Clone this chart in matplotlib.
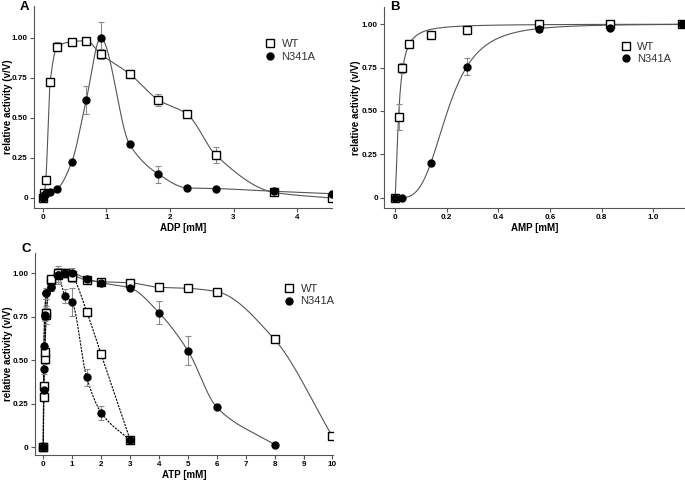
import numpy as np
import matplotlib
matplotlib.use("Agg")
import matplotlib.pyplot as plt
from matplotlib.lines import Line2D

plt.rcParams['font.family'] = ['Liberation Sans', 'DejaVu Sans']

# ---------------- data ----------------
# Panel A (ADP)
x_adp = [0, 0.0227, 0.0455, 0.114, 0.227, 0.455, 0.682, 0.909, 1.364, 1.818, 2.273, 2.727, 3.636, 4.545]
wt_adp = [0, 0.03, 0.11, 0.724, 0.946, 0.977, 0.983, 0.90, 0.776, 0.613, 0.523, 0.266, 0.035, 0.0]
wt_adp_err = [0, 0, 0, 0.01, 0.03, 0.01, 0.01, 0.03, 0.025, 0.04, 0.01, 0.05, 0.01, 0]
n_adp = [0, 0.017, 0.031, 0.04, 0.059, 0.226, 0.613, 1.0, 0.335, 0.149, 0.063, 0.059, 0.042, 0.027]
n_adp_err = [0, 0, 0, 0, 0, 0.01, 0.09, 0.1, 0.01, 0.053, 0.01, 0.01, 0.01, 0]

# Panel B (AMP)
x_amp_wt = [0, 0.0139, 0.0278, 0.0556, 0.139, 0.278, 0.556, 0.833, 1.111]
wt_amp = [0, 0.463, 0.747, 0.885, 0.939, 0.965, 1.0, 1.0, 1.0]
wt_amp_err = [0, 0.075, 0.03, 0.01, 0.005, 0.005, 0.01, 0.005, 0]
x_amp_n = [0, 0.0278, 0.139, 0.278, 0.556, 0.833, 1.111]
n_amp = [0, 0.0, 0.2, 0.755, 0.973, 0.977, 1.0]
n_amp_err = [0, 0, 0.005, 0.05, 0.02, 0.005, 0]

# Panel C (ATP) - two experiments per variant (solid / dashed)
x_atp_wt1 = [0, 0.01, 0.05, 0.1, 0.25, 0.5, 0.75, 1, 1.5, 2, 3, 4, 5, 6, 8, 10]
wt_atp1 = [0, 0.29, 0.51, 0.76, 0.96, 0.99, 1.0, 0.99, 0.96, 0.952, 0.946, 0.92, 0.914, 0.895, 0.62, 0.063]
wt_atp1_err = [0, 0.02, 0.03, 0.05, 0.03, 0.04, 0.01, 0.04, 0.01, 0.01, 0.01, 0.01, 0.01, 0.01, 0.01, 0.01]
x_atp_wt2 = [0, 0.02, 0.05, 0.1, 0.25, 0.5, 0.75, 1, 1.5, 2, 3]
wt_atp2 = [0, 0.35, 0.55, 0.77, 0.965, 1.0, 1.0, 0.98, 0.78, 0.535, 0.045]
wt_atp2_err = [0, 0.02, 0.03, 0.03, 0.02, 0.02, 0.01, 0.02, 0.01, 0.01, 0.02]
x_atp_n1 = [0, 0.01, 0.02, 0.05, 0.1, 0.25, 0.5, 0.75, 1, 1.5, 2, 3, 4, 5, 6, 8]
n_atp1 = [0, 0.33, 0.58, 0.76, 0.885, 0.92, 0.99, 1.0, 1.0, 0.969, 0.946, 0.916, 0.774, 0.556, 0.23, 0.015]
n_atp1_err = [0, 0.02, 0.02, 0.03, 0.03, 0.02, 0.02, 0.01, 0.02, 0.01, 0.01, 0.01, 0.065, 0.082, 0.01, 0.01]
x_atp_n2 = [0, 0.01, 0.05, 0.1, 0.25, 0.5, 0.75, 1, 1.5, 2, 3]
n_atp2 = [0, 0.45, 0.755, 0.885, 0.92, 0.99, 0.872, 0.833, 0.402, 0.2, 0.04]
n_atp2_err = [0, 0.03, 0.03, 0.03, 0.02, 0.05, 0.04, 0.08, 0.05, 0.04, 0.02]

y_ticks = [0, 0.25, 0.5, 0.75, 1.0]
y_ticklabels = ["0", "0.25", "0.50", "0.75", "1.00"]

W, H = 685, 482


# ---------------- helpers ----------------
def pchip(x, y, xs):
    x = np.asarray(x, float); y = np.asarray(y, float)
    h = np.diff(x); d = np.diff(y) / h
    n = len(x)
    m = np.zeros(n)
    m[0] = d[0]; m[-1] = d[-1]
    for k in range(1, n - 1):
        if d[k - 1] * d[k] <= 0:
            m[k] = 0.0
        else:
            w1 = 2 * h[k] + h[k - 1]
            w2 = h[k] + 2 * h[k - 1]
            m[k] = (w1 + w2) / (w1 / d[k - 1] + w2 / d[k])
    idx = np.clip(np.searchsorted(x, xs) - 1, 0, n - 2)
    t = (xs - x[idx]) / h[idx]
    h00 = 2 * t**3 - 3 * t**2 + 1
    h10 = t**3 - 2 * t**2 + t
    h01 = -2 * t**3 + 3 * t**2
    h11 = t**3 - t**2
    return h00 * y[idx] + h10 * h[idx] * m[idx] + h01 * y[idx + 1] + h11 * h[idx] * m[idx + 1]


def smooth_line(ax, x, y, ls='-', color='#555555', lw=0.8):
    xs = np.unique(np.concatenate([np.linspace(min(x), max(x), 800), np.asarray(x, float)]))
    ax.plot(xs, pchip(x, y, xs), ls=ls, color=color, lw=lw, zorder=2)


def hill_fit(x, y):
    x = np.asarray(x, float); y = np.asarray(y, float)
    vmax = max(y)
    best = None
    for K in np.linspace(0.002, 0.5, 500):
        for nh in np.linspace(0.5, 5, 91):
            pred = vmax * x**nh / (K**nh + x**nh)
            e = np.sum((pred - y) ** 2)
            if best is None or e < best[0]:
                best = (e, K, nh)
    return vmax, best[1], best[2]


def points(ax, x, y, err, marker):
    ax.errorbar(x, y, yerr=err, fmt='none', ecolor='#8a8a8a', elinewidth=0.8,
                capsize=2.5, capthick=0.8, zorder=3)
    if marker == 's':
        ax.plot(x, y, 's', ms=5.5, mfc='white', mec='black', mew=1.0, ls='none', zorder=4)
    else:
        ax.plot(x, y, 'o', ms=5.0, mfc='black', mec='black', ls='none', zorder=5)


def style(ax, xlim, ylim, xticks, xticklabels, xlabel, label_x_px):
    ax.set_xlim(*xlim); ax.set_ylim(*ylim)
    for s in ['top', 'right']:
        ax.spines[s].set_visible(False)
    for s in ['left', 'bottom']:
        ax.spines[s].set_color('#555555')
        ax.spines[s].set_linewidth(0.8)
    ax.set_yticks(y_ticks)
    ax.set_yticklabels(y_ticklabels, fontsize=5.8, fontweight='bold')
    ax.set_xticks(xticks)
    ax.set_xticklabels(xticklabels, fontsize=5.8, fontweight='bold')
    ax.tick_params(direction='out', length=3, width=0.8, color='#555555', pad=1.5)
    ax.set_ylabel('relative activity (v/V)', fontsize=7, fontweight='bold', va='center')
    bb = ax.get_position()
    ax.yaxis.set_label_coords((label_x_px / W - bb.x0) / bb.width, 0.5)
    ax.set_xlabel(xlabel, fontsize=7, fontweight='bold', labelpad=1)


def legend(ax, anchor):
    handles = [Line2D([], [], marker='s', ls='none', ms=6, mfc='white', mec='black', mew=1.0),
               Line2D([], [], marker='o', ls='none', ms=5, mfc='black', mec='black')]
    leg = ax.legend(handles, ['WT', 'N341A'], loc='upper left', bbox_to_anchor=anchor,
                    frameon=False, fontsize=8, handletextpad=0.5, labelspacing=0.25,
                    borderaxespad=0, handlelength=1.0)
    for t in leg.get_texts():
        t.set_color('#333333')


fig = plt.figure(figsize=(W / 100, H / 100), dpi=100)


def axes_px(l, r, t, b):
    return fig.add_axes([l / W, 1 - b / H, (r - l) / W, (b - t) / H])


# ---------------- Panel A ----------------
axA = axes_px(34, 332, 6, 208)
smooth_line(axA, x_adp, wt_adp)
smooth_line(axA, x_adp, n_adp)
points(axA, x_adp, wt_adp, wt_adp_err, 's')
points(axA, x_adp, n_adp, n_adp_err, 'o')
style(axA, (-0.14, 4.55), (-0.0625, 1.2), [0, 1, 2, 3, 4], ['0', '1', '2', '3', '4'], 'ADP [mM]', 8)
legend(axA, (0.76, 0.86))
fig.text(20 / W, 1 - 0.5 / H, 'A', fontsize=9.5, fontweight='bold', va='top', ha='left')

# ---------------- Panel B ----------------
axB = axes_px(384, 685, 7, 208)
xs = np.linspace(0, 1.12, 800)
vm, K, nh = hill_fit(x_amp_wt, wt_amp)
axB.plot(xs, vm * xs**nh / (K**nh + xs**nh), color='#555555', lw=0.8, zorder=2)
vm, K, nh = hill_fit(x_amp_n, n_amp)
axB.plot(xs, vm * xs**nh / (K**nh + xs**nh), color='#555555', lw=0.8, zorder=2)
points(axB, x_amp_wt, wt_amp, wt_amp_err, 's')
points(axB, x_amp_n, n_amp, n_amp_err, 'o')
style(axB, (-0.0426, 1.123), (-0.058, 1.098), [0, 0.2, 0.4, 0.6, 0.8, 1.0],
      ['0', '0.2', '0.4', '0.6', '0.8', '1.0'], 'AMP [mM]', 356)
legend(axB, (0.77, 0.85))
fig.text(390 / W, 1 - 0.5 / H, 'B', fontsize=9.5, fontweight='bold', va='top', ha='left')

# ---------------- Panel C ----------------
axC = axes_px(35, 333, 253, 455)
smooth_line(axC, x_atp_wt1, wt_atp1)
smooth_line(axC, x_atp_n1, n_atp1)
smooth_line(axC, x_atp_wt2, wt_atp2, ls=(0, (2, 1)), color='black')
smooth_line(axC, x_atp_n2, n_atp2, ls=(0, (2, 1)), color='black')
points(axC, x_atp_wt1, wt_atp1, wt_atp1_err, 's')
points(axC, x_atp_wt2, wt_atp2, wt_atp2_err, 's')
points(axC, x_atp_n1, n_atp1, n_atp1_err, 'o')
points(axC, x_atp_n2, n_atp2, n_atp2_err, 'o')
style(axC, (-0.287, 10.02), (-0.044, 1.117), list(range(11)), [str(i) for i in range(11)], 'ATP [mM]', 8)
legend(axC, (0.82, 0.87))
fig.text(22 / W, 1 - 243 / H, 'C', fontsize=9.5, fontweight='bold', va='top', ha='left')

fig.savefig('out.png', dpi=100)
